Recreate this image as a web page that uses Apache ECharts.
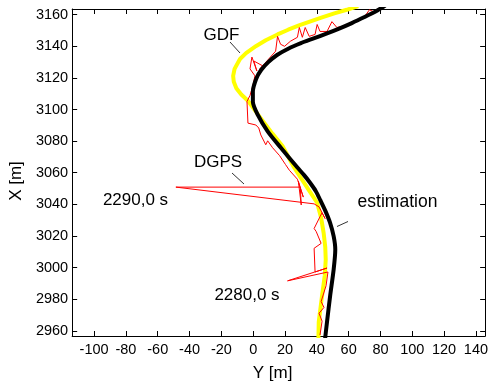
<!DOCTYPE html>
<html><head><meta charset="utf-8">
<script src="https://cdn.jsdelivr.net/npm/echarts@6/dist/echarts.min.js"></script>
<style>html,body{margin:0;padding:0;background:#fff}#c{width:491px;height:387px}</style>
</head><body><div id="c"></div>
<script>
// Tick labels
const xTicks = [-100,-80,-60,-40,-20,0,20,40,60,80,100,120,140];
const yTicks = [2960,2980,3000,3020,3040,3060,3080,3100,3120,3140,3160];

// GDF (yellow) : horizontal "Y" and vertical "X" coordinates
const gdfY = [41.0,41.2,43.3,45.0,45.6,45.3,44.3,42.8,40.2,35.0,25.7,18.4,12.2,4.0,-3.3,-7.5,-10.6,-12.2,-12.6,-11.7,-10.6,-8.3,-4.5,1.9,7.9,15.3,22.0,28.8,36.0,43.3,51.0,58.8,66.0];
const gdfX = [2955,2965.6,2982.3,2995.0,3005.0,3013.0,3021.8,3031.0,3041.0,3049.0,3063.3,3076.9,3084.6,3095.5,3105.5,3109.5,3113.5,3117.5,3121.3,3125.7,3127.8,3132.0,3135.7,3140.2,3143.8,3147.5,3150.5,3153.2,3155.8,3158.3,3160.8,3163.1,3165.5];

// Estimation (black)
const estY = [45.2,46.4,48.4,50.6,51.6,50.6,48.3,45.3,42.2,39.3,35.5,32.0,27.8,17.4,9.1,2.9,-0.2,-0.2,1.9,5.0,9.5,15.0,22.0,30.0,38.0,46.0,54.0,62.0,70.0,76.0,81.0,84.0];
const estX = [2955,2965.6,2982.3,2998.9,3011.4,3019.7,3028.4,3036.0,3042.6,3048.5,3054.0,3058.5,3063.3,3075.8,3086.2,3096.6,3104.9,3111.2,3119.5,3125.0,3130.0,3134.5,3138.5,3142.0,3145.0,3148.0,3151.2,3154.7,3158.5,3161.5,3164.5,3166.5];

// DGPS (red)
const dgpsY = [42.0,43.3,41.4,44.5,42.7,45.8,47.0,21.6,46.4,38.9,38.3,42.7,39.6,38.3,42.0,43.3,45.2,41.4,38.3,-48.6,29.6,30.2,28.4,31.5,27.8,22.8,20.3,16.6,12.2,9.1,7.9,4.8,3.5,1.7,-3.3,-3.9,-2.0,-0.2,1.1,-2.0,-0.8,2.3,0.4,6.0,4.2,14.1,15.3,17.2,19.7,23.4,27.8,29.0,30.9,32.7,35.2,38.9,40.2,42.0,46.4,49.5,52.6,55.7,70.0,73.1,75.6,79.3];
const dgpsX = [2957.3,2966.1,2971.1,2974.8,2978.5,2988.5,2997.2,2991.6,2999.7,2997.2,3012.2,3015.3,3022.8,3024.7,3032.2,3034.7,3031.0,3038.4,3040.3,3050.9,3050.9,3039.6,3054.6,3044.6,3055.9,3061.5,3065.2,3070.8,3075.8,3080.2,3077.7,3083.9,3088.3,3090.2,3091.4,3105.1,3108.9,3115.1,3121.3,3125.7,3133.2,3124.4,3130.7,3127.6,3125.7,3136.9,3146.3,3141.3,3140.0,3143.2,3145.7,3151.9,3145.7,3151.9,3146.3,3147.5,3153.8,3149.4,3149.4,3155.6,3151.9,3152.5,3158.8,3163.1,3161.9,3164.4];

const zip = (a, b) => a.map((v, i) => [v, b[i]]);
const FONT = '"Liberation Sans", Arial, Helvetica, sans-serif';
const xMin = -113.8, xMax = 145.8, yMin = 2956.7, yMax = 3163.6;

const chart = echarts.init(document.getElementById('c'), null, {renderer: 'canvas'});
const axLine = {show: true, onZero: false, lineStyle: {color: '#000', width: 1}};
const tick = (vals) => ({show: true, inside: true, length: 5, lineStyle: {color: '#000'}, customValues: vals});
const plain = (v) => String(v);
chart.setOption({
  animation: false,
  backgroundColor: '#fff',
  grid: {left: 72, right: 1, top: 9, bottom: 46, containLabel: false},
  xAxis: [
    {type: 'value', min: xMin, max: xMax, position: 'bottom',
     name: 'Y [m]', nameLocation: 'middle', nameGap: 29,
     nameTextStyle: {fontFamily: FONT, fontSize: 17, color: '#000', padding: [0, 12, 0, 0]},
     axisLine: axLine, axisTick: tick(xTicks), splitLine: {show: false},
     axisLabel: {customValues: xTicks, formatter: plain, fontFamily: FONT, fontSize: 14.5, color: '#000', margin: 6}},
    {type: 'value', min: xMin, max: xMax, position: 'top',
     axisLine: axLine, axisTick: tick(xTicks), splitLine: {show: false}, axisLabel: {show: false}}
  ],
  yAxis: [
    {type: 'value', min: yMin, max: yMax, position: 'left',
     name: 'X [m]', nameLocation: 'middle', nameGap: 43.5, nameRotate: 90,
     nameTextStyle: {fontFamily: FONT, fontSize: 17, color: '#000', padding: [0, 17, 0, 0]},
     axisLine: axLine, axisTick: tick(yTicks), splitLine: {show: false},
     axisLabel: {customValues: yTicks, formatter: plain, fontFamily: FONT, fontSize: 14.5, color: '#000', margin: 4}},
    {type: 'value', min: yMin, max: yMax, position: 'right',
     axisLine: axLine, axisTick: tick(yTicks), splitLine: {show: false}, axisLabel: {show: false}}
  ],
  series: [
    {name: 'GDF', type: 'line', data: zip(gdfY, gdfX), showSymbol: false, clip: true,
     lineStyle: {color: '#ffff00', width: 4, join: 'round'}, z: 2},
    {name: 'DGPS', type: 'line', data: zip(dgpsY, dgpsX), showSymbol: false, clip: true,
     lineStyle: {color: '#ff0000', width: 1}, z: 3},
    {name: 'estimation', type: 'line', data: zip(estY, estX), showSymbol: false, clip: true, smooth: 0.25,
     lineStyle: {color: '#000000', width: 4, join: 'round'}, z: 4}
  ],
  graphic: [
    {type: 'text', x: 221.5, y: 35.5, style: {text: 'GDF', font: '17px ' + FONT, fill: '#000', textAlign: 'center', textVerticalAlign: 'middle'}},
    {type: 'line', shape: {x1: 230, y1: 42, x2: 240, y2: 53}, style: {stroke: '#333', lineWidth: 1}},
    {type: 'text', x: 218, y: 162.5, style: {text: 'DGPS', font: '17px ' + FONT, fill: '#000', textAlign: 'center', textVerticalAlign: 'middle'}},
    {type: 'line', shape: {x1: 232, y1: 173, x2: 244, y2: 184}, style: {stroke: '#333', lineWidth: 1}},
    {type: 'text', x: 135.5, y: 200, style: {text: '2290,0 s', font: '17px ' + FONT, fill: '#000', textAlign: 'center', textVerticalAlign: 'middle'}},
    {type: 'text', x: 397.5, y: 202.5, style: {text: 'estimation', font: '17.5px ' + FONT, fill: '#000', textAlign: 'center', textVerticalAlign: 'middle'}},
    {type: 'line', shape: {x1: 337, y1: 226.5, x2: 348, y2: 221.5}, style: {stroke: '#333', lineWidth: 1}},
    {type: 'text', x: 247, y: 295, style: {text: '2280,0 s', font: '17px ' + FONT, fill: '#000', textAlign: 'center', textVerticalAlign: 'middle'}}
  ]
});
</script></body></html>
